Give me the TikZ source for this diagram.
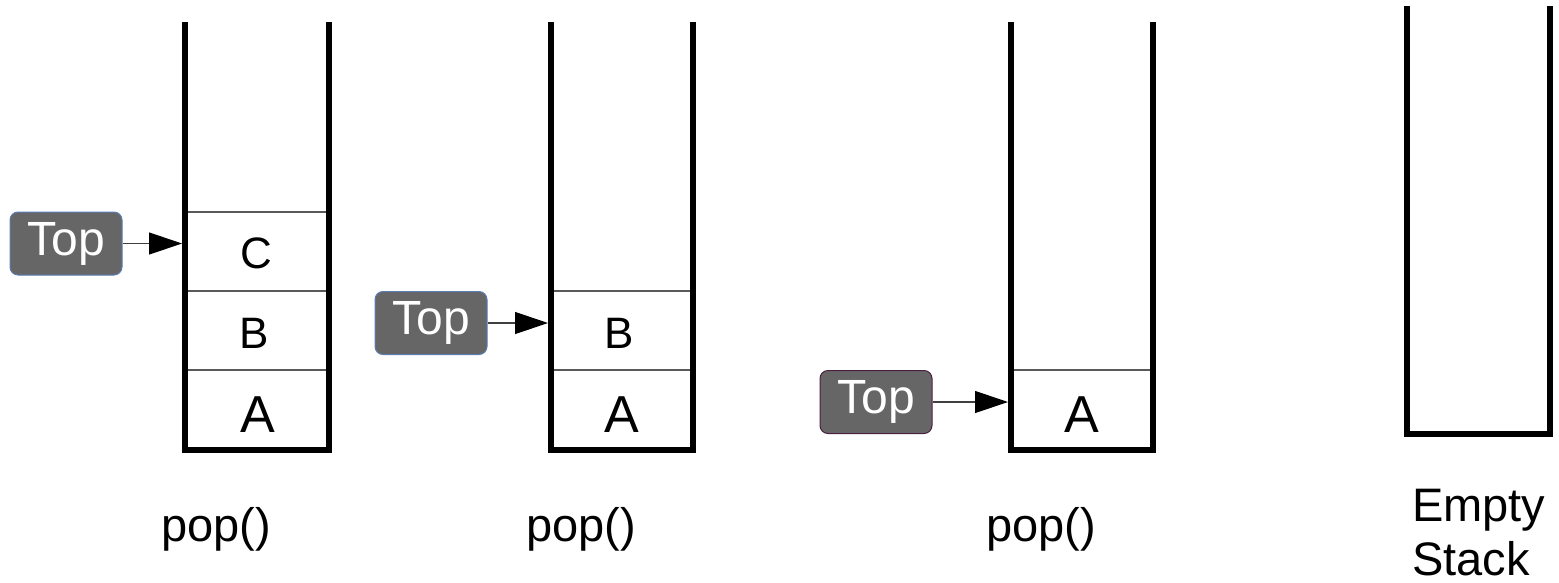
\documentclass[tikz,border=0pt]{standalone}
\usepackage{fontspec}
\setmainfont{Liberation Sans}
\usetikzlibrary{arrows.meta}
\definecolor{topfill}{HTML}{666666}
\definecolor{edgeblue}{HTML}{5A7DB5}
\definecolor{edgeplum}{HTML}{4A2040}
\tikzset{
  wall/.style={line width=6.5pt, line join=miter},
  divider/.style={line width=1.2pt, draw=black!65},
  topbox/.style={rounded corners=8pt, fill=topfill, line width=1pt,
    minimum width=112pt, minimum height=63pt, inner sep=0pt,
    text=white, font=\fontsize{48}{48}\selectfont},
  ptr/.style={line width=1.2pt, draw=black!75,
    -{Triangle[length=33pt,width=22pt,color=black,fill=black]}},
  cellbc/.style={font=\fontsize{44}{44}\selectfont, anchor=base, inner sep=0pt},
  cella/.style={font=\fontsize{52}{52}\selectfont, anchor=base, inner sep=0pt},
  caption/.style={font=\fontsize{47}{47}\selectfont, anchor=base, inner sep=0pt},
}
\begin{document}
\begin{tikzpicture}[x=1pt,y=-1pt]
\useasboundingbox (0,0) rectangle (1559,582);

% ---- stack 1
\coordinate (s1tl) at (185,22); \coordinate (s1bl) at (185,450);
\coordinate (s1br) at (329,450); \coordinate (s1tr) at (329,22);
\draw[wall] (s1tl) -- (s1bl) -- (s1br) -- (s1tr);
\coordinate (d1a) at (188,212); \coordinate (d1b) at (326,212);
\coordinate (d1c) at (188,291); \coordinate (d1d) at (326,291);
\coordinate (d1e) at (188,370); \coordinate (d1f) at (326,370);
\draw[divider] (d1a) -- (d1b);
\draw[divider] (d1c) -- (d1d);
\draw[divider] (d1e) -- (d1f);
\node[cellbc] (c1) at (256,268) {C};
\node[cellbc] (b1) at (254,348) {B};
\node[cella] (a1) at (258,432) {A};
\node[topbox, draw=edgeblue] (top1) at (66,243.5) {Top};
\coordinate (p1) at (182,243.5);
\draw[ptr] (top1.east) -- (p1);
\node[caption] (pop1) at (216,541) {pop()};

% ---- stack 2
\coordinate (s2tl) at (551,22); \coordinate (s2bl) at (551,450);
\coordinate (s2br) at (693,450); \coordinate (s2tr) at (693,22);
\draw[wall] (s2tl) -- (s2bl) -- (s2br) -- (s2tr);
\coordinate (d2c) at (554,291); \coordinate (d2d) at (690,291);
\coordinate (d2e) at (554,370); \coordinate (d2f) at (690,370);
\draw[divider] (d2c) -- (d2d);
\draw[divider] (d2e) -- (d2f);
\node[cellbc] (b2) at (619,348) {B};
\node[cella] (a2) at (622,432) {A};
\node[topbox, draw=edgeblue] (top2) at (431,323) {Top};
\coordinate (p2) at (548,323);
\draw[ptr] (top2.east) -- (p2);
\node[caption] (pop2) at (581,541) {pop()};

% ---- stack 3
\coordinate (s3tl) at (1011,22); \coordinate (s3bl) at (1011,450);
\coordinate (s3br) at (1153,450); \coordinate (s3tr) at (1153,22);
\draw[wall] (s3tl) -- (s3bl) -- (s3br) -- (s3tr);
\coordinate (d3e) at (1014,370); \coordinate (d3f) at (1150,370);
\draw[divider] (d3e) -- (d3f);
\node[cella] (a3) at (1082,432) {A};
\node[topbox, draw=edgeplum] (top3) at (876,402) {Top};
\coordinate (p3) at (1008,402);
\draw[ptr] (top3.east) -- (p3);
\node[caption] (pop3) at (1041,541) {pop()};

% ---- stack 4 (empty)
\coordinate (s4tl) at (1407,6); \coordinate (s4bl) at (1407,434);
\coordinate (s4br) at (1550,434); \coordinate (s4tr) at (1550,6);
\draw[wall] (s4tl) -- (s4bl) -- (s4br) -- (s4tr);
\node[caption, anchor=base west] (empty) at (1412,521) {Empty};
\node[caption, anchor=base west] (stack) at (1412,575) {Stack};
\end{tikzpicture}
\end{document}
